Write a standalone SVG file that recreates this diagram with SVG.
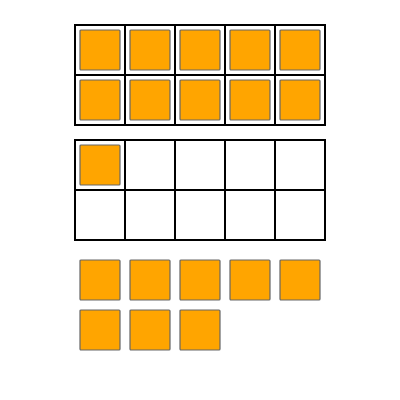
<svg xmlns="http://www.w3.org/2000/svg" width="400" height="400" viewBox="0 0 400 400">
<style>
.grid{fill:none;stroke:#000;stroke-width:2}
.c{fill:#FFA500;stroke:#666;stroke-width:1.2}
</style>
<defs>
<rect id="sq" class="c" width="40" height="40" rx="1"/>
</defs>
<rect width="400" height="400" fill="#fff"/>
<g id="frame1">
<path class="grid" d="M75,25H325V125H75Z M75,75H325 M125,25V125 M175,25V125 M225,25V125 M275,25V125"/>
<use href="#sq" x="80" y="30"/><use href="#sq" x="130" y="30"/><use href="#sq" x="180" y="30"/><use href="#sq" x="230" y="30"/><use href="#sq" x="280" y="30"/>
<use href="#sq" x="80" y="80"/><use href="#sq" x="130" y="80"/><use href="#sq" x="180" y="80"/><use href="#sq" x="230" y="80"/><use href="#sq" x="280" y="80"/>
</g>
<g id="frame2">
<path class="grid" d="M75,140H325V240H75Z M75,190H325 M125,140V240 M175,140V240 M225,140V240 M275,140V240"/>
<use href="#sq" x="80" y="145"/>
</g>
<g id="loose">
<use href="#sq" x="80" y="260"/><use href="#sq" x="130" y="260"/><use href="#sq" x="180" y="260"/><use href="#sq" x="230" y="260"/><use href="#sq" x="280" y="260"/>
<use href="#sq" x="80" y="310"/><use href="#sq" x="130" y="310"/><use href="#sq" x="180" y="310"/>
</g>
<g id="connectors"/>
</svg>
